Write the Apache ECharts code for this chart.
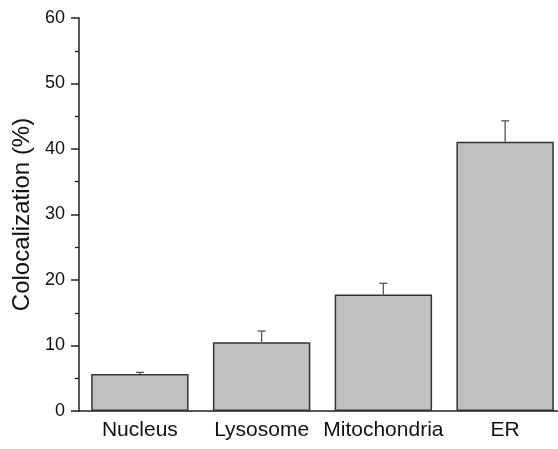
<!DOCTYPE html>
<html><head><meta charset="utf-8">
<script src="https://cdn.jsdelivr.net/npm/echarts@6/dist/echarts.min.js"></script>
<style>html,body{margin:0;padding:0;background:#fff;overflow:hidden;width:558px;height:449px}#c{width:566px;height:449px}</style>
</head><body><div id="c"></div>
<script>
var categories = ['Nucleus', 'Lysosome', 'Mitochondria', 'ER'];
var values = [5.65, 10.5, 17.8, 41.1];
var errors = [0.25, 1.7, 1.7, 3.2];
var yTicks = [0, 10, 20, 30, 40, 50, 60];

var chart = echarts.init(document.getElementById('c'));
var font = 'Liberation Sans, Arial, sans-serif';
chart.setOption({
  animation: false,
  grid: { left: 79, top: 18, bottom: 38, right: 0, containLabel: false },
  xAxis: {
    type: 'category', data: categories,
    axisLine: { lineStyle: { color: '#222', width: 1.5 } },
    axisTick: { show: false },
    axisLabel: { color: '#111', fontSize: 21, fontFamily: font, margin: 9, interval: 0 }
  },
  yAxis: {
    type: 'value', min: yTicks[0], max: yTicks[yTicks.length - 1], interval: 10,
    name: 'Colocalization (%)', nameLocation: 'middle', nameGap: 44,
    nameTextStyle: { color: '#111', fontSize: 24, fontFamily: font },
    axisLine: { show: true, lineStyle: { color: '#222', width: 1.5 } },
    axisTick: { show: true, inside: false, length: 8, lineStyle: { color: '#222', width: 1.5 } },
    minorTick: { show: true, splitNumber: 2, length: 4, lineStyle: { color: '#222', width: 1.3 } },
    splitLine: { show: false },
    axisLabel: { color: '#111', fontSize: 18, fontFamily: font, margin: 14 }
  },
  series: [
    {
      type: 'bar', data: values, barWidth: '80%',
      itemStyle: { color: '#c0c0c0', borderColor: '#333', borderWidth: 1.5 }
    },
    {
      type: 'custom',
      data: values.map(function (v, i) { return [i, v, v + errors[i]]; }),
      renderItem: function (params, api) {
        var p0 = api.coord([api.value(0), api.value(1)]);
        var p1 = api.coord([api.value(0), api.value(2)]);
        var hw = 4;
        return {
          type: 'group',
          children: [
            { type: 'line', shape: { x1: p0[0], y1: p0[1], x2: p1[0], y2: p1[1] }, style: { stroke: '#555', lineWidth: 1.3 } },
            { type: 'line', shape: { x1: p1[0] - hw, y1: p1[1], x2: p1[0] + hw, y2: p1[1] }, style: { stroke: '#555', lineWidth: 1.3 } }
          ]
        };
      },
      z: 3
    }
  ]
});
</script></body></html>
